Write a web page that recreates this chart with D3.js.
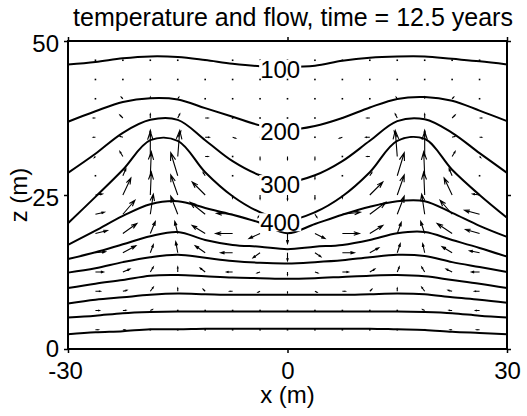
<!DOCTYPE html>
<html><head><meta charset="utf-8">
<script src="https://cdn.jsdelivr.net/npm/d3@7"></script>
<style>
body{margin:0;background:#fff;}
text{font-family:Arial,"Liberation Sans",Helvetica,sans-serif;fill:#000;}
</style></head><body>
<svg id="chart" width="527" height="416"></svg>
<script>
// ---------------- data ----------------
const titleText = "temperature and flow, time = 12.5 years";
const xLabel = "x (m)";
const zLabel = "z (m)";
const xTicks = [-30, 0, 30];
const zTicks = [0, 25, 50];
const xTickLabels = ["-30", "0", "30"];
const zTickLabels = ["0", "25", "50"];

// contour polylines: z (m) of each isotherm at these x (m)
const contourX = [-30,-26.25,-22.5,-18.75,-15,-11.25,-7.5,-3.75,0,3.75,7.5,11.25,15,18.75,22.5,26.25,30];
const contourLevels = [100,200,300,400,500,600,700,800,900,1000,1100];
const c100  = [46.2,46.6,47.2,47.5,47.4,46.9,46.3,45.9,45.8,46.0,46.8,47.3,47.5,47.5,47.1,46.7,46.2];
const c200  = [36.9,38.6,40.1,40.7,40.5,39.1,37.7,36.3,35.6,36.2,37.5,39.2,40.6,40.9,40.3,38.7,37.0];
const c300  = [28.6,31.7,35.1,37.2,37.2,33.9,30.5,28.2,27.1,28.2,30.5,33.8,37.0,37.3,35.1,31.8,28.6];
const c400  = [20.4,24.7,29.1,33.9,33.8,28.7,24.8,22.2,20.9,22.2,24.8,28.7,33.8,34.1,29.1,25.0,21.3];
const c500  = [16.9,19.2,21.6,23.5,24.0,22.9,21.8,20.5,18.8,20.3,21.8,23.1,24.0,24.0,22.1,20.0,18.2];
const c600  = [14.6,15.7,17.0,18.3,19.0,17.7,16.9,16.6,16.2,16.6,16.9,17.7,18.8,19.0,17.7,16.4,15.0];
const c700  = [12.4,13.1,14.1,14.9,15.3,14.8,14.3,14.0,13.9,14.1,14.4,14.9,15.3,15.1,14.1,13.3,12.5];
const c800  = [9.9,10.6,11.2,11.9,12.0,11.8,11.6,11.5,11.4,11.5,11.7,11.9,12.0,11.8,11.2,10.6,9.9];
const c900  = [7.4,8.0,8.4,8.8,9.0,8.9,8.8,8.8,8.8,8.8,8.8,8.9,9.0,8.9,8.4,8.0,7.5];
const c1000 = [5.1,5.4,5.8,6.0,6.1,6.1,6.1,6.1,6.1,6.1,6.1,6.1,6.1,6.0,5.8,5.4,5.1];
const c1100 = [2.4,2.7,2.9,3.2,3.2,3.3,3.3,3.3,3.3,3.3,3.3,3.3,3.2,3.1,2.8,2.6,2.4];
const labeledLevels = [100,200,300,400];

// flow field (m/yr), rows from bottom (z ascending), columns left to right
const flowX = [-26.25,-22.5,-18.75,-15,-11.25,-7.5,-3.75,0,3.75,7.5,11.25,15,18.75,22.5,26.25];
const flowZ = [3.125,6.25,9.375,12.5,15.625,18.75,21.875,25,28.125,31.25,34.375,37.5,40.625,43.75,46.875];
const flowU = [
 [0.3,0.2,0.1,0.05,0.03,0.02,0.01,0,-0.01,-0.02,-0.03,-0.05,-0.1,-0.2,-0.3],
 [0.4,0.3,0.2,0.03,-0.1,-0.1,-0.1,0,0.1,0.1,0.1,-0.03,-0.2,-0.3,-0.4],
 [0.5,0.4,0.3,0,-0.2,-0.3,-0.2,0,0.2,0.3,0.2,0,-0.3,-0.4,-0.5],
 [0.8,0.7,0.3,0,-0.5,-0.6,-0.3,0,0.3,0.6,0.5,0.2,-0.3,-0.6,-0.8],
 [1.0,1.3,0.3,-0.2,-1.0,-1.2,-0.7,0,0.6,1.2,0.9,0.3,-0.2,-1.0,-1.0],
 [1.2,1.4,0.5,-0.3,-1.3,-1.7,-1.1,0,1.0,1.7,1.3,0.4,-0.4,-1.5,-1.4],
 [0.9,1.2,0.3,-0.7,-1.5,-1.6,-0.2,0,0.2,1.8,1.6,0.7,-0.3,-1.2,-1.5],
 [0.7,0.8,0.1,-0.7,-1.3,0,0,0,0,0,1.3,0.7,-0.1,-0.8,-0.7],
 [0,0.3,0.1,-0.7,-0.2,0,0,0,0,0,0.2,0.7,-0.1,-0.3,0],
 [-0.1,-0.3,0,0.2,0.3,0.05,0,0,0,-0.05,-0.3,-0.2,0,0.3,0.1],
 [-0.2,-0.3,0,0.3,0.4,0.3,0,0,0,-0.3,-0.4,-0.3,0,0.3,0.2],
 [-0.2,-0.3,0,0.2,0.3,0.05,0,0,0,-0.05,-0.3,-0.2,0,0.3,0.2],
 [-0.05,-0.15,0,0.1,0.1,0,0,0,0,0,-0.1,-0.1,0,0.15,0.05],
 [0,0,0,0,0,0,0,0,0,0,0,0,0,0,0],
 [0,0,0,0,0,0,0,0,0,0,0,0,0,0,0]
];
const flowW = [
 [0,0,0.03,0.03,0.02,0,0,-0.02,0,0,0.02,0.03,0.03,0,0],
 [0,0.03,0.1,0.1,0.03,0,-0.05,-0.05,-0.05,0,0.03,0.1,0.1,0.03,0],
 [0,0.1,0.4,0.3,0.2,0,-0.1,-0.15,-0.1,0,0.2,0.3,0.4,0.1,0],
 [0,0.3,0.5,0.5,0.4,0,-0.1,-0.3,-0.1,0,0.3,0.5,0.5,0.3,0],
 [0.1,0.7,0.8,1.1,0.7,0,-0.5,-0.8,-0.4,0,0.5,0.9,0.9,0.6,0.2],
 [0.3,1.0,1.2,1.2,0.8,0,-0.5,-1.0,-0.5,0,0.8,1.1,1.2,1.0,0.4],
 [0.2,1.4,2.0,1.8,1.2,0.1,-0.3,-0.5,-0.3,0.2,1.2,1.8,2.0,1.4,0.4],
 [0.1,1.7,2.3,2.0,1.3,-0.3,-0.4,-0.5,-0.4,-0.3,1.3,2.0,2.3,1.7,0.1],
 [-0.1,0.7,2.4,2.3,0.3,-0.1,-0.3,-0.4,-0.3,-0.1,0.3,2.3,2.4,0.7,-0.1],
 [-0.1,0.5,2.5,2.6,0,-0.1,-0.3,-0.3,-0.3,-0.1,0,2.6,2.5,0.5,-0.1],
 [0,0.1,0.7,0.6,0,-0.1,-0.1,-0.05,-0.1,-0.1,0,0.6,0.7,0.1,0],
 [0,0.3,0.4,0.4,0,0,-0.05,-0.05,-0.05,0,0,0.4,0.4,0.3,0],
 [0,0.15,0.15,0.15,0,0,0,0,0,0,0,0.15,0.15,0.15,0],
 [0,0,0,0,0,0,0,0,0,0,0,0,0,0,0],
 [0,0,0,0,0,0,0,0,0,0,0,0,0,0,0]
];

// ---------------- drawing ----------------
const svg = d3.select("#chart");
const margin = {left: 68, right: 20, top: 41, bottom: 67};
const W = 527, H = 416;
const x = d3.scaleLinear().domain([-30, 30]).range([margin.left, W - margin.right]);
const z = d3.scaleLinear().domain([0, 50]).range([H - margin.bottom, margin.top]);
const speed = d3.scaleLinear().domain([0, 1]).range([0, 10]); // m/yr -> px

const contours = [c100,c200,c300,c400,c500,c600,c700,c800,c900,c1000,c1100];
const line = d3.line().x(d => x(d[0])).y(d => z(d[1])).curve(d3.curveCatmullRom.alpha(0.5));

const gC = svg.append("g");
contours.forEach((c, i) => {
  gC.append("path")
    .attr("d", line(contourX.map((xv, k) => [xv, c[k]])))
    .attr("fill", "none").attr("stroke", "#000").attr("stroke-width", 2)
    .attr("stroke-linejoin", "round");
});

// arrows (quiver style)
const gA = svg.append("g").attr("stroke", "#000").attr("stroke-width", 1.1).attr("fill", "none");
const alpha = 0.33, beta = 0.33;
flowZ.forEach((zv, i) => {
  flowX.forEach((xv, j) => {
    const x0 = x(xv), y0 = z(zv);
    const u = flowU[i][j], w = flowW[i][j];
    const dx = Math.sign(u) * speed(Math.abs(u));
    const dy = -Math.sign(w) * speed(Math.abs(w));
    const len = Math.hypot(dx, dy);
    if (len < 1.3) {
      gA.append("rect").attr("x", x0 - 0.8).attr("y", y0 - 0.8)
        .attr("width", 1.6).attr("height", 1.6).attr("fill", "#000").attr("stroke", "none");
      return;
    }
    const x1 = x0 + dx, y1 = y0 + dy;
    const h1x = x1 - alpha * (dx + beta * dy), h1y = y1 - alpha * (dy - beta * dx);
    const h2x = x1 - alpha * (dx - beta * dy), h2y = y1 - alpha * (dy + beta * dx);
    gA.append("path").attr("d",
      `M${x0},${y0}L${x1},${y1}M${h1x},${h1y}L${x1},${y1}L${h2x},${h2y}`);
  });
});

// contour labels
const labelFs = 24;
labeledLevels.forEach(lv => {
  const idx = contourLevels.indexOf(lv);
  const zc = contours[idx][contourX.indexOf(0)];
  const lx = x(-1), ly = z(zc) + 2;
  const g = svg.append("g");
  const t = g.append("text").attr("x", lx).attr("y", ly).attr("dy", "0.36em")
    .attr("text-anchor", "middle").attr("font-size", labelFs).text(lv);
  const bb = t.node().getBBox();
  g.insert("rect", "text").attr("x", bb.x - 1).attr("y", ly - 9).attr("width", bb.width + 2)
    .attr("height", 18).attr("fill", "#fff");
});

// frame
svg.append("rect").attr("x", x(-30)).attr("y", z(50)).attr("width", x(30) - x(-30))
  .attr("height", z(0) - z(50)).attr("fill", "none").attr("stroke", "#000").attr("stroke-width", 2);

// axes
const fs = 24;
const axB = svg.append("g").attr("transform", `translate(0,${z(0)})`)
  .call(d3.axisBottom(x).tickValues(xTicks).tickSize(4).tickPadding(9)
    .tickFormat((d, i) => xTickLabels[i]));
const axT = svg.append("g").attr("transform", `translate(0,${z(50)})`)
  .call(d3.axisTop(x).tickValues(xTicks).tickSize(4).tickFormat(""));
const axL = svg.append("g").attr("transform", `translate(${x(-30)},0)`)
  .call(d3.axisLeft(z).tickValues(zTicks).tickSize(4).tickPadding(5)
    .tickFormat((d, i) => zTickLabels[i]));
const axR = svg.append("g").attr("transform", `translate(${x(30)},0)`)
  .call(d3.axisRight(z).tickValues(zTicks).tickSize(4).tickFormat(""));
[axB, axT, axL, axR].forEach(a => {
  a.select(".domain").remove();
  a.selectAll(".tick line").attr("stroke", "#000").attr("stroke-width", 1.5);
  a.selectAll("text").attr("font-size", fs).attr("font-family", "Arial, 'Liberation Sans', sans-serif").attr("fill", "#000");
});
axB.selectAll("text").attr("dy", "0.71em");
axB.selectAll(".tick").filter(d => d === -30).select("text").attr("dx", -3);
axL.selectAll("text").attr("dy", "0.42em");
axL.selectAll(".tick").filter(d => d === 0).select("text").attr("dy", "0.3em");

// titles
svg.append("text").attr("x", 293).attr("y", 26).attr("text-anchor", "middle")
  .attr("font-size", 25).text(titleText);
svg.append("text").attr("x", x(0)).attr("y", 403).attr("text-anchor", "middle")
  .attr("font-size", fs).text(xLabel);
svg.append("text").attr("transform", `translate(27,${z(25)}) rotate(-90)`)
  .attr("text-anchor", "middle").attr("font-size", fs).text(zLabel);
</script>
</body></html>
